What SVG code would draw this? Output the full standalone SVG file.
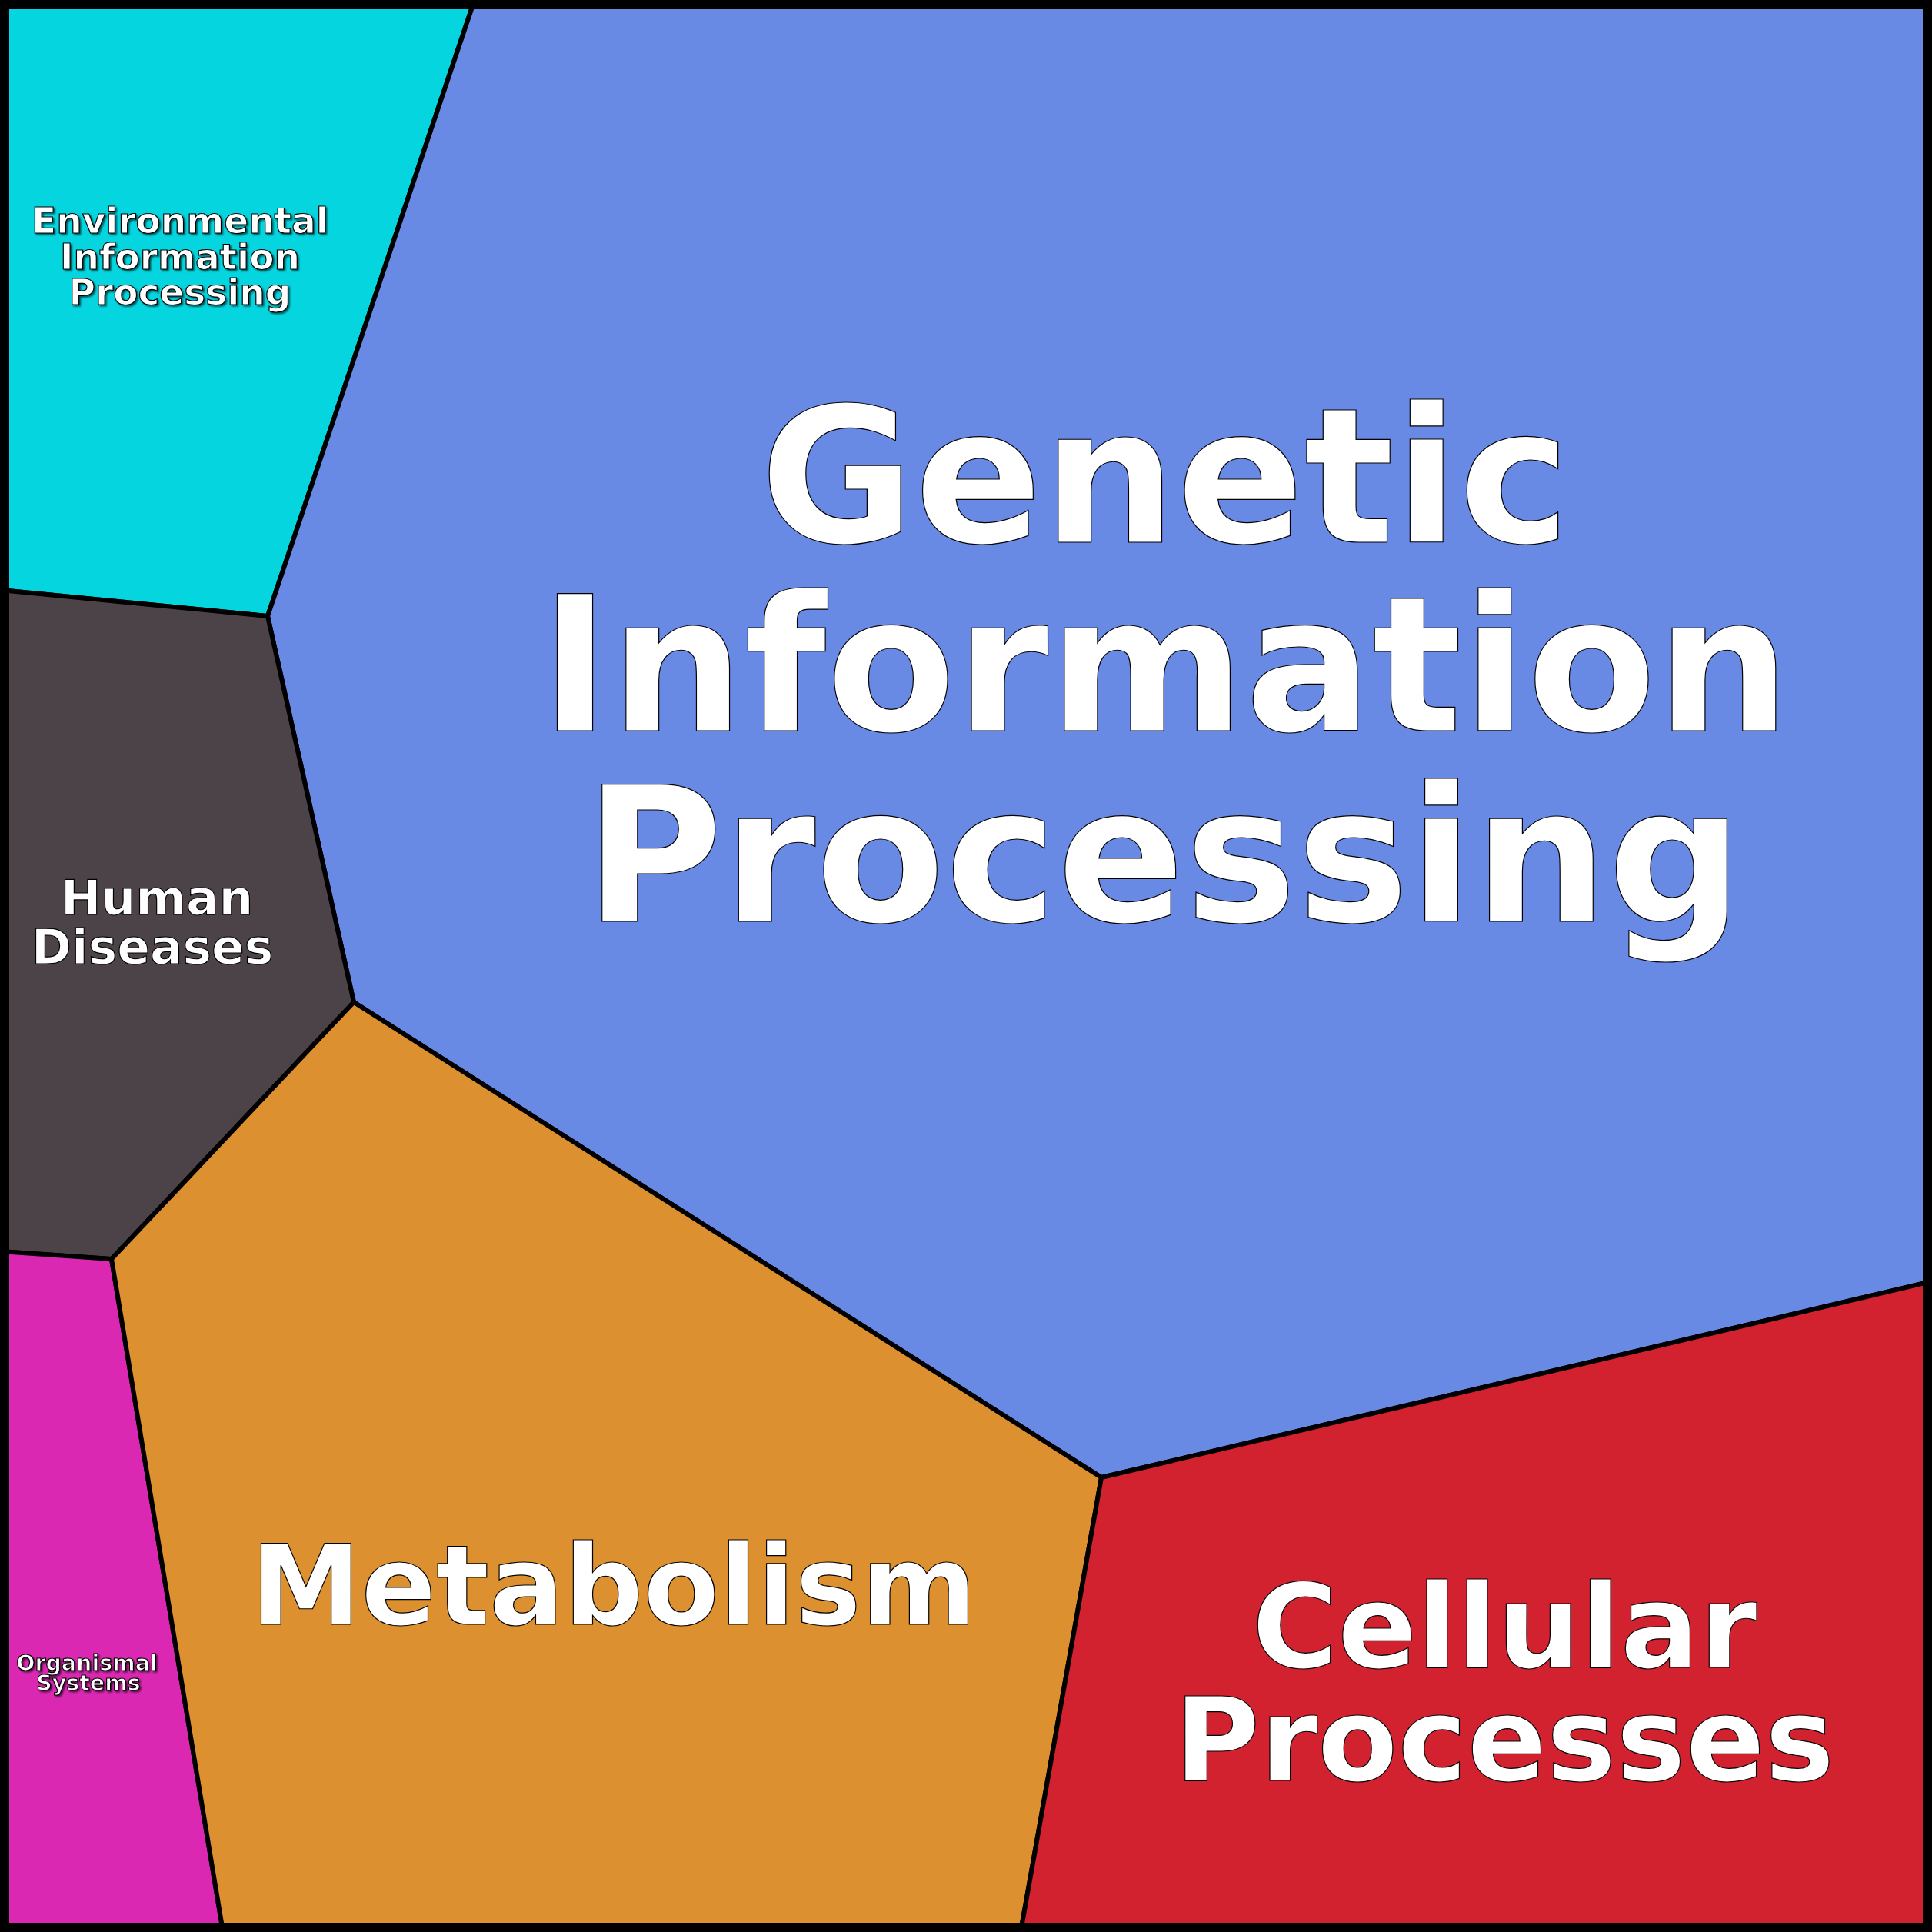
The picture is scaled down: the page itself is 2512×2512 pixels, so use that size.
<svg xmlns="http://www.w3.org/2000/svg" width="2512" height="2512" viewBox="0 0 2512 2512">
<defs>
<filter id="shadow" x="-10%" y="-10%" width="120%" height="130%">
<feDropShadow dx="2" dy="2" stdDeviation="0.8" flood-color="#000" flood-opacity="0.6"/>
</filter>
</defs>
<style>
.cell{stroke:#000;stroke-width:6;stroke-linejoin:miter}
.t{font-family:"DejaVu Sans",sans-serif;font-weight:bold;text-anchor:middle;fill:#fff;stroke:#000;stroke-width:1.2}
</style>
<g id="cells">
<g id="environmental"><polygon class="cell" fill="#05D5DF" points="0,0 617,0 348,801 0,767"/></g>
<g id="genetic"><polygon class="cell" fill="#6889E4" points="617,0 2512,0 2512,1666 1432,1921 460,1303 348,801"/></g>
<g id="human"><polygon class="cell" fill="#4C4349" points="0,767 348,801 460,1303 145,1637 0,1627"/></g>
<g id="organismal"><polygon class="cell" fill="#DA28B2" points="0,1627 145,1637 290,2512 0,2512"/></g>
<g id="metabolism"><polygon class="cell" fill="#DC902F" points="145,1637 460,1303 1432,1921 1327,2512 290,2512"/></g>
<g id="cellular"><polygon class="cell" fill="#D22230" points="1432,1921 2512,1666 2512,2512 1327,2512"/></g>
</g>
<rect x="6" y="6" width="2500" height="2500" fill="none" stroke="#000" stroke-width="12"/>
<g id="labels">
<g id="label-genetic" font-size="245">
<text class="t" x="1515" y="705">Genetic</text>
<text class="t" x="1515" y="950">Information</text>
<text class="t" x="1513" y="1198">Processing</text>
</g>
<g id="label-metabolism"><text class="t" x="798" y="2112" font-size="144">Metabolism</text></g>
<g id="label-cellular" font-size="152">
<text class="t" x="1956" y="2168">Cellular</text>
<text class="t" x="1956" y="2315">Processes</text>
</g>
<g id="label-human" font-size="63">
<text class="t" x="204" y="1189">Human</text>
<text class="t" x="198" y="1253">Diseases</text>
</g>
<g id="label-environmental" font-size="47" filter="url(#shadow)">
<text class="t" x="234" y="303" stroke-width="0.6">Environmental</text>
<text class="t" x="234" y="350" stroke-width="0.6">Information</text>
<text class="t" x="234" y="396" stroke-width="0.6">Processing</text>
</g>
<g id="label-organismal" font-size="28.5" filter="url(#shadow)">
<text class="t" x="113" y="2172" stroke-width="0.4">Organismal</text>
<text class="t" x="115" y="2198" stroke-width="0.4">Systems</text>
</g>
</g>
</svg>
